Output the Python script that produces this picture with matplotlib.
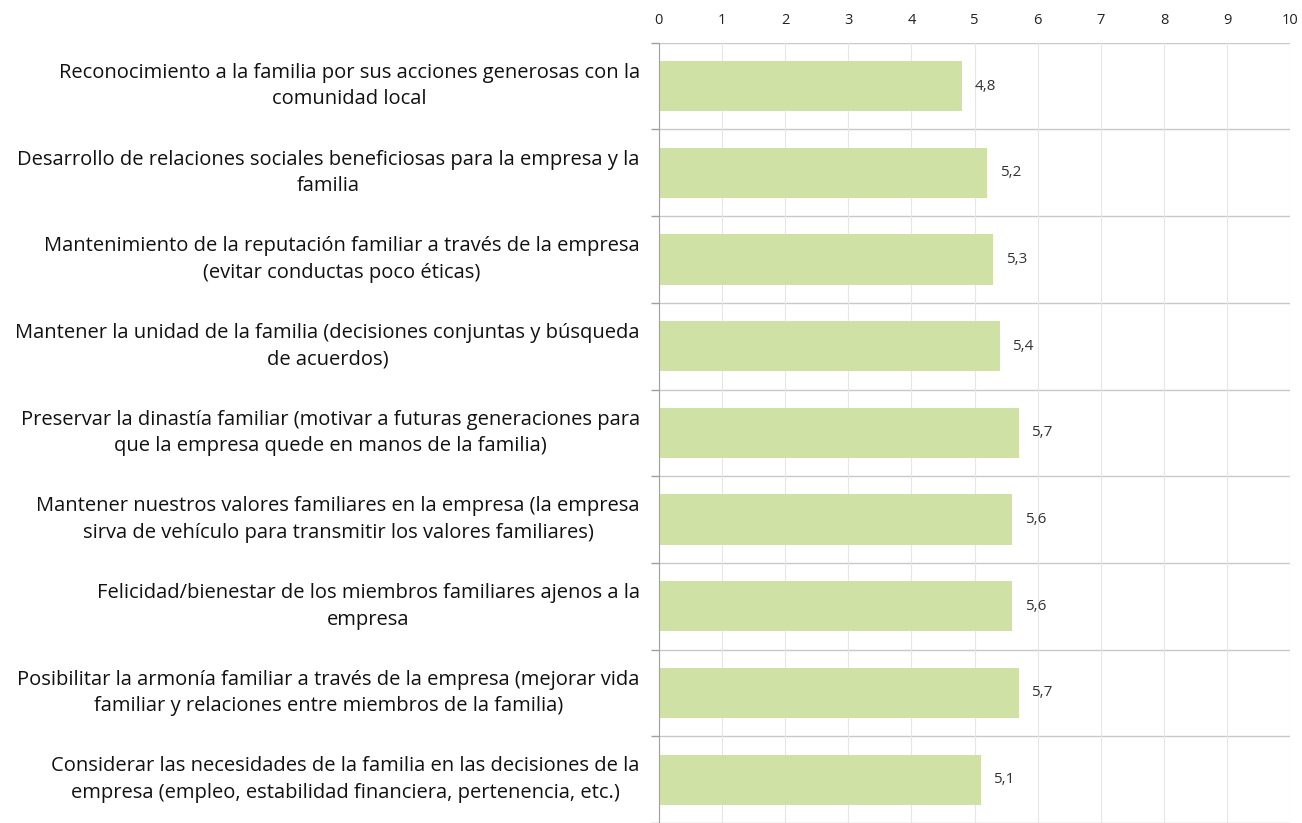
import matplotlib
matplotlib.use("Agg")
import matplotlib.pyplot as plt
import numpy as np

categories = [
    "Reconocimiento a la familia por sus acciones generosas con la\ncomunidad local",
    "Desarrollo de relaciones sociales beneficiosas para la empresa y la\nfamilia",
    "Mantenimiento de la reputación familiar a través de la empresa\n(evitar conductas poco éticas)",
    "Mantener la unidad de la familia (decisiones conjuntas y búsqueda\nde acuerdos)",
    "Preservar la dinastía familiar (motivar a futuras generaciones para\nque la empresa quede en manos de la familia)",
    "Mantener nuestros valores familiares en la empresa (la empresa\nsirva de vehículo para transmitir los valores familiares)",
    "Felicidad/bienestar de los miembros familiares ajenos a la\nempresa",
    "Posibilitar la armonía familiar a través de la empresa (mejorar vida\nfamiliar y relaciones entre miembros de la familia)",
    "Considerar las necesidades de la familia en las decisiones de la\nempresa (empleo, estabilidad financiera, pertenencia, etc.)",
]
values = [4.8, 5.2, 5.3, 5.4, 5.7, 5.6, 5.6, 5.7, 5.1]
xticks = list(range(0, 11))

plt.rcParams['font.family'] = ['Open Sans', 'DejaVu Sans']

fig = plt.figure(figsize=(13.02, 8.23), dpi=100)
ax = fig.add_axes([0.506, 0.0, 0.485, 0.948])

n = len(categories)
y = np.arange(n)
ax.barh(y, values, height=0.58, color="#d0e1a5", zorder=2)
for yi, v in zip(y, values):
    ax.text(v + 0.2, yi, f"{v:.1f}".replace(".", ","), va="center", ha="left",
            fontsize=11, color="#333333")

ax.set_xlim(0, 10)
ax.set_ylim(n - 0.5, -0.5)
ax.xaxis.tick_top()
ax.set_xticks(xticks)
ax.set_xticklabels([str(t) for t in xticks], fontsize=10.5, color="#222222")
ax.tick_params(axis="x", length=0, pad=11)
ax.grid(axis="x", color="#e6e6e6", linewidth=0.8, zorder=0)

# category separators
ax.set_yticks(np.arange(-0.5, n, 1.0))
ax.set_yticklabels([])
ax.tick_params(axis="y", length=6, color="#a0a0a0", width=1)
for b in np.arange(-0.5, n, 1.0):
    ax.axhline(b, color="#c8c8c8", linewidth=1, zorder=1)

for yi, lab in zip(y, categories):
    ax.text(-0.3, yi, lab, ha="right", va="center", fontsize=14.5,
            color="#111111", transform=ax.transData, linespacing=1.43,
            multialignment="center")

for s in ["top", "right", "bottom"]:
    ax.spines[s].set_visible(False)
ax.spines["left"].set_color("#a0a0a0")

fig.savefig("out.png", dpi=100)
